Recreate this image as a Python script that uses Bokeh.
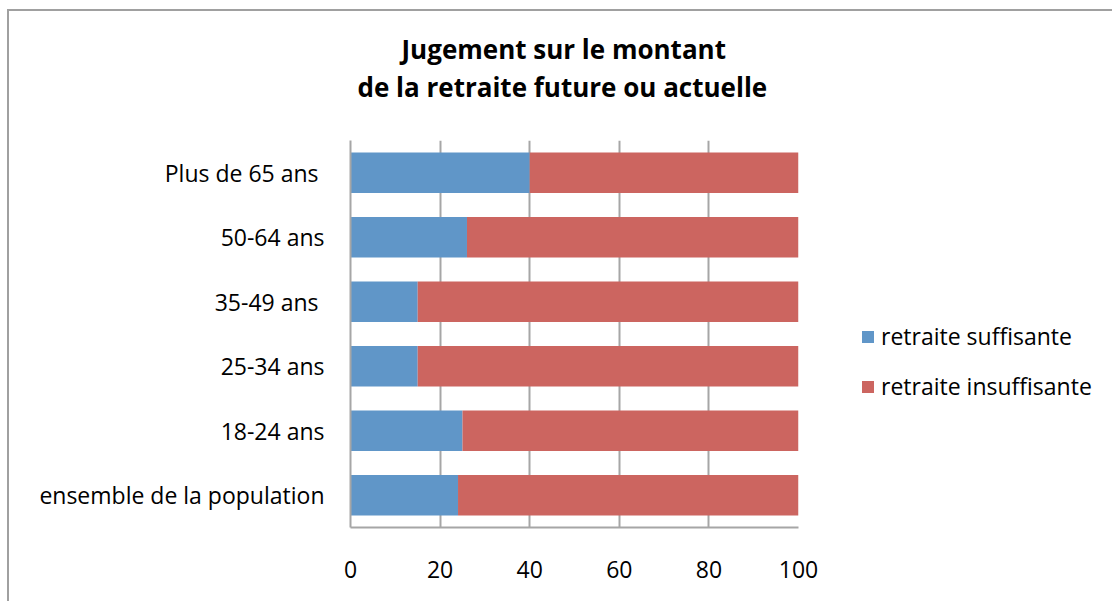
from bokeh.plotting import figure
from bokeh.models import Range1d, FactorRange, Legend, LegendItem, Title, FixedTicker
from bokeh.embed import file_html
from bokeh.resources import INLINE

categories = ["ensemble de la population", "18-24 ans", "25-34 ans", "35-49 ans ", "50-64 ans", "Plus de 65 ans "]
suffisante = [24, 25, 15, 15, 26, 40]
insuffisante = [76, 75, 85, 85, 74, 60]
series_names = ["retraite suffisante", "retraite insuffisante"]
x_ticks = [0, 20, 40, 60, 80, 100]
title_lines = ["Jugement sur le montant", "de la retraite future ou actuelle"]

BLUE = "#6096C8"
RED = "#CC6560"
GRID = "#A6A6A6"
FONT = "Open Sans"

data = {"cat": categories, "suff": suffisante, "insuff": insuffisante}

p = figure(frame_width=448, frame_height=387, y_range=FactorRange(factors=categories),
           x_range=Range1d(0, 100), output_backend="svg", toolbar_location=None,
           min_border_left=341, min_border_right=310, min_border_top=129, min_border_bottom=74,
           title=title_lines[0])
p.outline_line_color = None

r = p.hbar_stack(["suff", "insuff"], y="cat", height=0.63, color=[BLUE, RED],
                 line_color=None, source=data)

p.ygrid.grid_line_color = None
p.xgrid.grid_line_color = GRID
p.xgrid.grid_line_width = 2
p.xaxis.ticker = FixedTicker(ticks=x_ticks)

for ax in (p.xaxis[0], p.yaxis[0]):
    ax.axis_line_color = GRID
    ax.axis_line_width = 2
    ax.major_tick_line_color = None
    ax.minor_tick_line_color = None
    ax.major_label_text_font = FONT
    ax.major_label_text_font_size = "23px"
    ax.major_label_text_color = "#000000"
p.xaxis.major_label_standoff = 27
p.yaxis.major_label_standoff = 20

# title (two lines): figure title is the upper line, the added one sits next to the frame
p.title.text_font = FONT
p.title.text_font_style = "bold"
p.title.text_font_size = "26px"
p.title.text_color = "#000000"
p.title.align = "left"
p.title.offset = 51
p.title.standoff = -73
t2 = Title(text=title_lines[1], text_font=FONT, text_font_style="bold", text_font_size="26px",
           text_color="#000000", align="left", offset=7, standoff=72)
p.add_layout(t2, "above")

legend = Legend(items=[LegendItem(label=series_names[0], renderers=[r[0]]),
                       LegendItem(label=series_names[1], renderers=[r[1]])],
                location=(62, 125), border_line_color=None, background_fill_alpha=0,
                padding=0, margin=0, spacing=18, glyph_width=15, glyph_height=15,
                label_standoff=6, label_text_font=FONT, label_text_font_size="23px",
                label_text_color="#000000")
p.add_layout(legend, "right")

p.styles = {"margin-left": "7px", "margin-top": "9px",
            "border-left": "2px solid #A0A0A0", "border-top": "2px solid #A0A0A0"}

open("out.html", "w").write(file_html(p, INLINE))
